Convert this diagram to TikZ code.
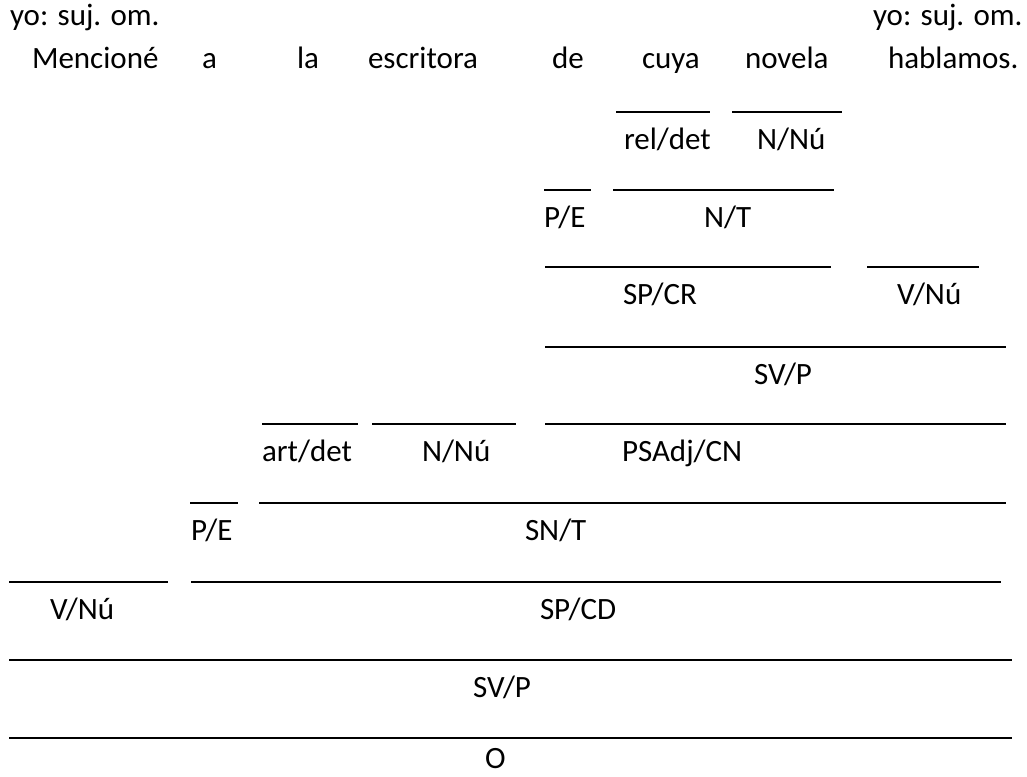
\documentclass[tikz,border=0pt]{standalone}
\usepackage{fontspec}
\setmainfont{Carlito}
\begin{document}
\begin{tikzpicture}[x=1pt,y=-1pt,
  txt/.style={anchor=base west,inner sep=0pt,outer sep=0pt,font=\fontsize{31}{37}\selectfont},
  uline/.style={line width=2pt,black}]
\useasboundingbox[fill=white] (0,0) rectangle (1027,776);
% top line
\node[txt] (yoL) at (10,26) {yo: suj. om.};
\node[txt] (yoR) at (873,26) {yo: suj. om.};
% sentence
\node[txt] (w1) at (32,68) {Mencioné};
\node[txt] (w2) at (202,68) {a};
\node[txt] (w3) at (297,68) {la};
\node[txt] (w4) at (368,68) {escritora};
\node[txt] (w5) at (552,68) {de};
\node[txt] (w6) at (642,68) {cuya};
\node[txt] (w7) at (745,68) {novela};
\node[txt] (w8) at (888,68) {hablamos.};
% underlines
\draw[uline] (616,112) -- (710,112);
\draw[uline] (732,112) -- (842,112);
\draw[uline] (544,190) -- (591,190);
\draw[uline] (613,190) -- (834,190);
\draw[uline] (545,267) -- (831,267);
\draw[uline] (867,267) -- (979,267);
\draw[uline] (545,347) -- (1006,347);
\draw[uline] (262,424) -- (358,424);
\draw[uline] (372,424) -- (516,424);
\draw[uline] (545,424) -- (1006,424);
\draw[uline] (190,503) -- (238,503);
\draw[uline] (259,503) -- (1006,503);
\draw[uline] (9,582) -- (168,582);
\draw[uline] (191,582) -- (1001,582);
\draw[uline] (9,660) -- (1012,660);
\draw[uline] (9,738) -- (1012,738);
% labels
\node[txt] (l1) at (624,149) {rel/det};
\node[txt] (l2) at (757,149) {N/Nú};
\node[txt] (l3) at (544,227) {P/E};
\node[txt] (l4) at (704,227) {N/T};
\node[txt] (l5) at (623,304) {SP/CR};
\node[txt] (l6) at (897,304) {V/Nú};
\node[txt] (l7) at (754,384) {SV/P};
\node[txt] (l8) at (262,461) {art/det};
\node[txt] (l9) at (422,461) {N/Nú};
\node[txt] (l10) at (622,461) {PSAdj/CN};
\node[txt] (l11) at (191,540) {P/E};
\node[txt] (l12) at (525,540) {SN/T};
\node[txt] (l13) at (50,619) {V/Nú};
\node[txt] (l14) at (540,619) {SP/CD};
\node[txt] (l15) at (473,697) {SV/P};
\node[txt] (l16) at (485,768) {O};
\end{tikzpicture}
\end{document}
